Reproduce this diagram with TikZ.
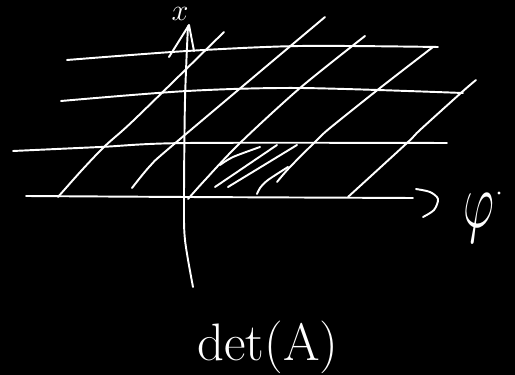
\documentclass[tikz,border=0pt]{standalone}
\usepackage{graphicx}
\begin{document}
\begin{tikzpicture}[x=0.02cm,y=-0.02cm,
  pen/.style={draw=white,line width=1.1pt,line cap=round,line join=round},
  lbl/.style={text=white,inner sep=0pt}]
\fill[black] (0,0) rectangle (515,375);
\useasboundingbox (0,0) rectangle (515,375);
% horizontal grid lines
\draw[pen] plot[smooth] coordinates {(67,60) (187,51) (300,46) (438,47)};
\draw[pen] plot[smooth] coordinates {(61,101) (187,91) (300,88) (463,93)};
\draw[pen] plot[smooth] coordinates {(13,151) (100,147) (187,143) (447,143)};
\draw[pen] plot[smooth] coordinates {(26,196) (187,197) (413,198)};
% arrow head of horizontal axis
\draw[pen] plot[smooth] coordinates {(416,189) (430,192) (438,199) (434,210) (423,217)};
% vertical axis
\draw[pen] plot[smooth] coordinates {(188,26) (185,100) (184,200) (185,240) (193,287)};
\draw[pen] (169,57) -- (189,25) -- (194,51);
% slanted grid lines
\draw[pen] plot[smooth] coordinates {(58,197) (82,170) (105,146) (135,119) (224,32)};
\draw[pen] plot[smooth] coordinates {(132,188) (150,166) (173,145) (325,17)};
\draw[pen] plot[smooth] coordinates {(188,199) (205,180) (240,143) (300,88) (365,36)};
\draw[pen] plot[smooth] coordinates {(277,182) (290,167) (317,140) (330,128) (380,88) (433,47)};
\draw[pen] plot[smooth] coordinates {(348,197) (407,143) (420,130) (462,92) (476,80)};
% hatching
\draw[pen] plot[smooth] coordinates {(220,165) (233,157) (260,147)};
\draw[pen] (215,187) -- (277,145);
\draw[pen] (228,187) -- (297,145);
\draw[pen] plot[smooth] coordinates {(257,194) (260,188) (268,180) (288,167)};
% labels
\node[lbl,font=\fontsize{18}{18}\selectfont] (xl) at (180,14) {$x$};
\node[lbl] (yl) at (479,218) {\scalebox{1.1}[1.8]{\fontsize{32}{32}\selectfont$\varphi$}};
\fill[white] (499,193) circle (1.6);
\node[lbl,anchor=base,font=\fontsize{30}{30}\selectfont] (det) at (268,361) {det(A)};
\end{tikzpicture}
\end{document}
